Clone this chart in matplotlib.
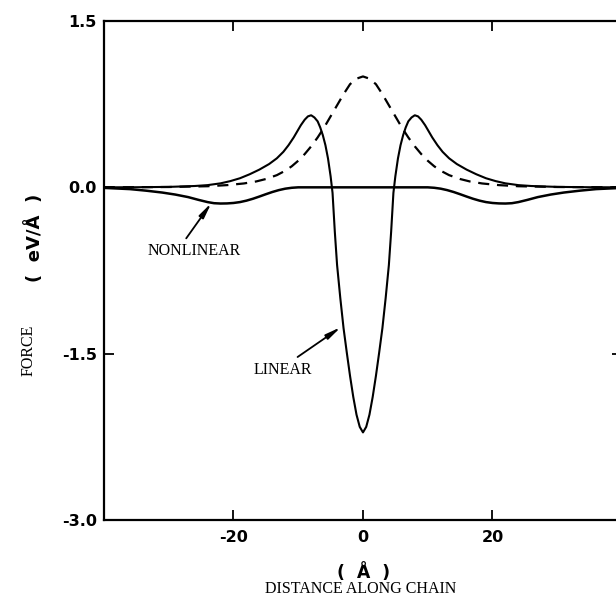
import numpy as np
import matplotlib
matplotlib.use("Agg")
import matplotlib.pyplot as plt

# ----------------------------------------------------------
# data (force in eV/A vs distance in A)
# ----------------------------------------------------------
lin_x_half = [0, 0.5, 1.0, 1.5, 2.0, 2.5, 3.0, 3.5, 4.0, 4.35, 4.7, 5.0, 5.4, 5.8,
              6.2, 6.6, 7.0, 7.5, 8.0, 8.5, 9.0, 9.6, 10.2, 10.7, 11.5, 12.3, 13.3,
              14.5, 16, 17.5, 19, 20.5, 22, 24, 26, 30, 35, 40]
lin_y_half = [-2.21, -2.16, -2.05, -1.89, -1.70, -1.49, -1.27, -1.0, -0.7, -0.4,
              -0.05, 0.1, 0.26, 0.38, 0.47, 0.54, 0.595, 0.63, 0.65, 0.64, 0.61,
              0.56, 0.50, 0.45, 0.38, 0.32, 0.262, 0.21, 0.16, 0.118, 0.082, 0.056,
              0.036, 0.02, 0.012, 0.004, 0.001, 0.0]

dash_x_half = [0, 1, 2, 3, 4, 5, 6, 7, 8, 9, 10, 11, 12, 13.3, 15, 16.5, 18.4, 21,
               24, 30, 40]
dash_y_half = [1.0, 0.98, 0.93, 0.84, 0.74, 0.64, 0.54, 0.45, 0.37, 0.30, 0.24, 0.19,
               0.15, 0.11, 0.075, 0.053, 0.035, 0.02, 0.01, 0.003, 0.0]

nl_x_half = [0, 10, 11, 12, 13, 14, 15, 16, 17, 18, 19, 20, 21, 22, 23, 24, 25.4,
             27, 29, 31, 33.5, 36, 40]
nl_y_half = [0.0, 0.0, -0.004, -0.012, -0.025, -0.042, -0.062, -0.083, -0.103,
             -0.12, -0.133, -0.141, -0.145, -0.146, -0.143, -0.133, -0.113,
             -0.088, -0.065, -0.047, -0.03, -0.016, -0.005]

xticks = [-20, 0, 20]
xticklabels = ["-20", "0", "20"]
yticks = [1.5, 0.0, -1.5, -3.0]
yticklabels = ["1.5", "0.0", "-1.5", "-3.0"]


def mirror(xs, ys):
    # curves are symmetric about x = 0
    x = np.array(xs, dtype=float)
    y = np.array(ys, dtype=float)
    return np.concatenate([-x[:0:-1], x]), np.concatenate([y[:0:-1], y])


lx, ly = mirror(lin_x_half, lin_y_half)
dx, dy = mirror(dash_x_half, dash_y_half)
nx, ny = mirror(nl_x_half, nl_y_half)

# ----------------------------------------------------------
# figure
# ----------------------------------------------------------
fig = plt.figure(figsize=(6.16, 6.07), dpi=100)
ax = fig.add_axes([0.1688, 0.1433, 0.8409, 0.8221])

ax.plot(lx, ly, color="black", lw=1.5, solid_joinstyle="round")
ax.plot(dx, dy, color="black", lw=1.6, ls=(0, (5, 3.5)))
ax.plot(nx, ny, color="black", lw=1.8, solid_joinstyle="round")

ax.set_xlim(-40, 40)
ax.set_ylim(-3.0, 1.5)

ax.set_xticks(xticks)
ax.set_xticklabels(xticklabels)
ax.set_yticks(yticks)
ax.set_yticklabels(yticklabels)
ax.tick_params(direction="in", length=7, width=1.3, top=True, right=True,
               labelsize=11.5, pad=7)
for lab in ax.get_xticklabels() + ax.get_yticklabels():
    lab.set_fontweight("bold")
ax.tick_params(axis="y", pad=5)

for sp in ax.spines.values():
    sp.set_linewidth(1.6)

# axis labels
serif = "Liberation Serif"
fig.text(364 / 616, 1 - 573 / 607, "(  Å  )", ha="center", va="center",
         fontsize=12.5, fontweight="bold")
fig.text(361 / 616, 1 - 589 / 607, "DISTANCE ALONG CHAIN", ha="center", va="center",
         fontsize=11.5, family=serif)
fig.text(29 / 616, 1 - 350 / 607, "FORCE", ha="center", va="center",
         fontsize=11.5, family=serif, rotation=90)
fig.text(35 / 616, 1 - 238 / 607, "(  eV/Å  )", ha="center", va="center",
         fontsize=13, fontweight="bold", rotation=90)

# curve labels with arrows
arrow = dict(arrowstyle="-|>,head_length=0.9,head_width=0.16", color="black",
             lw=1.3, shrinkA=0, shrinkB=0)
ax.annotate("", xy=(-23.4, -0.14), xytext=(-27.3, -0.46), arrowprops=arrow)
ax.text(-26.0, -0.57, "NONLINEAR", ha="center", va="center", fontsize=11.5,
        family=serif)
ax.annotate("", xy=(-3.4, -1.26), xytext=(-10.1, -1.53), arrowprops=arrow)
ax.text(-12.4, -1.65, "LINEAR", ha="center", va="center", fontsize=11.5,
        family=serif)

fig.savefig("out.png", dpi=100)
